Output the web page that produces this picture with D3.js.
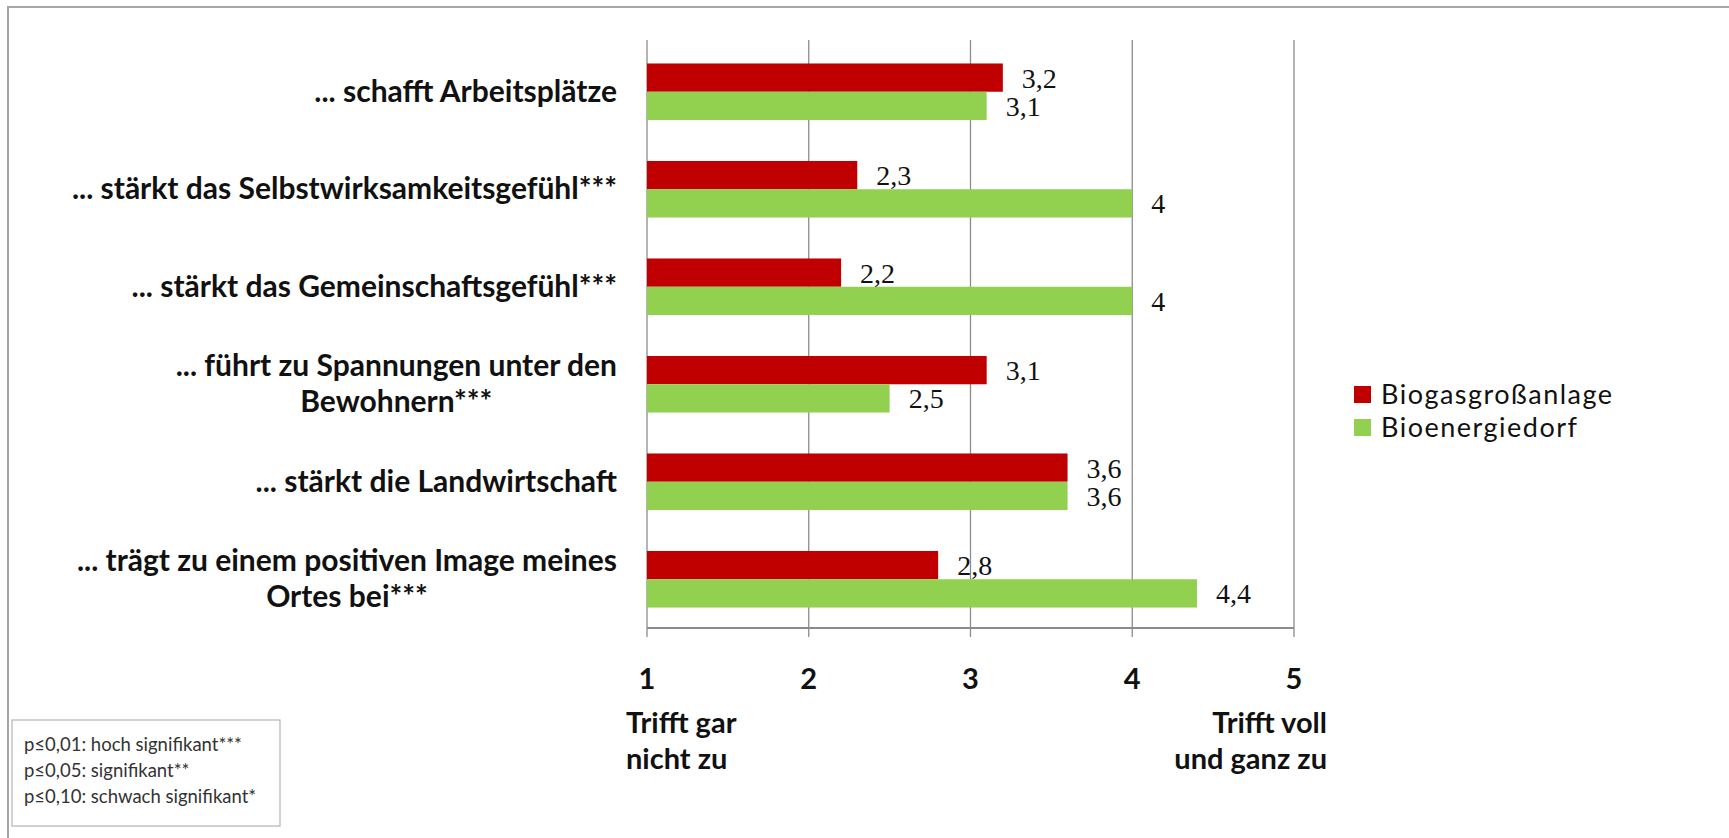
<!DOCTYPE html>
<html>
<head>
<meta charset="utf-8">
<script src="https://cdn.jsdelivr.net/npm/d3@7"></script>
<style>
  body { margin: 0; background: #fff; }
  svg { display: block; }
</style>
</head>
<body>
<script>
const categories = [
  '... schafft Arbeitsplätze',
  '... stärkt das Selbstwirksamkeitsgefühl***',
  '... stärkt das Gemeinschaftsgefühl***',
  '... führt zu Spannungen unter den\nBewohnern***',
  '... stärkt die Landwirtschaft',
  '... trägt zu einem positiven Image meines\nOrtes bei***'
];
const biogas = [3.2, 2.3, 2.2, 3.1, 3.6, 2.8];
const bioenergie = [3.1, 4, 4, 2.5, 3.6, 4.4];
const seriesNames = ['Biogasgroßanlage', 'Bioenergiedorf'];
const seriesColors = ['#c00000', '#92d050'];
const tickValues = [1, 2, 3, 4, 5];
const scaleEnds = [['Trifft gar', 'nicht zu'], ['Trifft voll', 'und ganz zu']];
const significance = [
  'p≤0,01: hoch signifikant***',
  'p≤0,05: signifikant**',
  'p≤0,10: schwach signifikant*'
];

const W = 1729, H = 838;
const plot = { left: 647, right: 1294, top: 40, bottom: 628 };
const sans = 'Lato, "Open Sans", sans-serif';

const svg = d3.select('body').append('svg')
  .attr('width', W)
  .attr('height', H);

// frame (top + left edge only, like the cropped screenshot)
svg.append('path')
  .attr('d', `M8,${H} V7 H${W}`)
  .attr('fill', 'none')
  .attr('stroke', '#a6a6a6')
  .attr('stroke-width', 2);

const x = d3.scaleLinear()
  .domain([1, 5])
  .range([plot.left, plot.right]);

const y = d3.scaleBand()
  .domain(categories)
  .range([43, plot.bottom])
  .paddingInner(0.42)
  .paddingOuter(0.21);

const ySub = d3.scaleBand()
  .domain(seriesNames)
  .range([0, y.bandwidth()]);

// gridlines
svg.append('g')
  .selectAll('line')
  .data(tickValues)
  .join('line')
  .attr('x1', d => x(d)).attr('x2', d => x(d))
  .attr('y1', plot.top).attr('y2', plot.bottom + 9)
  .attr('stroke', '#8c8c8c')
  .attr('stroke-width', 1.3);

// baseline
svg.append('line')
  .attr('x1', plot.left).attr('x2', plot.right)
  .attr('y1', plot.bottom).attr('y2', plot.bottom)
  .attr('stroke', '#8c8c8c')
  .attr('stroke-width', 2);

// bars
const rows = categories.map((c, i) => ({ cat: c, vals: [biogas[i], bioenergie[i]] }));

const groups = svg.append('g')
  .selectAll('g')
  .data(rows)
  .join('g')
  .attr('transform', d => `translate(0,${y(d.cat)})`);

groups.selectAll('rect')
  .data(d => d.vals.map((v, j) => ({ v, s: seriesNames[j], j })))
  .join('rect')
  .attr('x', x(1))
  .attr('y', d => ySub(d.s))
  .attr('width', d => x(d.v) - x(1))
  .attr('height', ySub.bandwidth())
  .attr('fill', d => seriesColors[d.j]);

groups.selectAll('text.val')
  .data(d => d.vals.map((v, j) => ({ v, s: seriesNames[j] })))
  .join('text')
  .attr('class', 'val')
  .attr('x', d => x(d.v) + 19)
  .attr('y', d => ySub(d.s) + ySub.bandwidth() / 2 + 10)
  .style('font-family', '"Liberation Serif", "Times New Roman", serif')
  .style('font-size', '28px')
  .style('fill', '#111')
  .text(d => String(d.v).replace('.', ','));

// category labels
const labels = svg.append('g')
  .selectAll('text')
  .data(categories)
  .join('text')
  .attr('text-anchor', 'middle')
  .style('font-family', sans)
  .style('font-weight', 'bold')
  .style('font-size', '30px')
  .style('fill', '#111');

labels.each(function (d) {
  const lines = d.split('\n');
  const t = d3.select(this);
  const cy = y(d) + y.bandwidth() / 2;
  const lh = 36;
  lines.forEach((ln, k) => {
    t.append('tspan')
      .attr('y', cy + (k - (lines.length - 1) / 2) * lh + 10)
      .text(ln);
  });
});
// right align each label block at the axis, lines centred inside
labels.each(function () {
  const t = d3.select(this);
  const w = d3.max(t.selectAll('tspan').nodes(), n => n.getComputedTextLength());
  t.selectAll('tspan').attr('x', 617 - w / 2);
});

// tick labels
svg.append('g')
  .selectAll('text')
  .data(tickValues)
  .join('text')
  .attr('x', d => x(d))
  .attr('y', 689)
  .attr('text-anchor', 'middle')
  .style('font-family', sans)
  .style('font-weight', 'bold')
  .style('font-size', '29px')
  .style('fill', '#111')
  .text(d => d);

// scale end descriptions
const ends = svg.append('g')
  .selectAll('text')
  .data(scaleEnds)
  .join('text')
  .attr('text-anchor', (d, i) => i === 0 ? 'start' : 'end')
  .style('font-family', sans)
  .style('font-weight', 'bold')
  .style('font-size', '29px')
  .style('fill', '#111');

ends.each(function (d, i) {
  const t = d3.select(this);
  d.forEach((ln, k) => {
    t.append('tspan')
      .attr('x', i === 0 ? 626 : 1327)
      .attr('y', 733 + k * 36)
      .text(ln);
  });
});

// legend
const legend = svg.append('g')
  .attr('transform', 'translate(1354,386)');

const li = legend.selectAll('g')
  .data(seriesNames)
  .join('g')
  .attr('transform', (d, i) => `translate(0,${i * 33})`);

li.append('rect')
  .attr('width', 17)
  .attr('height', 17)
  .attr('fill', (d, i) => seriesColors[i]);

li.append('text')
  .attr('x', 27)
  .attr('y', 18)
  .style('font-family', sans)
  .style('font-size', '27px')
  .style('letter-spacing', '1.5px')
  .style('fill', '#111')
  .text(d => d);

// significance note
svg.append('rect')
  .attr('x', 12).attr('y', 720)
  .attr('width', 268).attr('height', 106)
  .attr('fill', '#fff')
  .attr('stroke', '#b3b3b3')
  .attr('stroke-width', 1.2);

svg.append('g')
  .selectAll('text')
  .data(significance)
  .join('text')
  .attr('x', 24)
  .attr('y', (d, i) => 751 + i * 26)
  .style('font-family', sans)
  .style('font-size', '18.5px')
  .style('fill', '#333')
  .text(d => d);
</script>
</body>
</html>
